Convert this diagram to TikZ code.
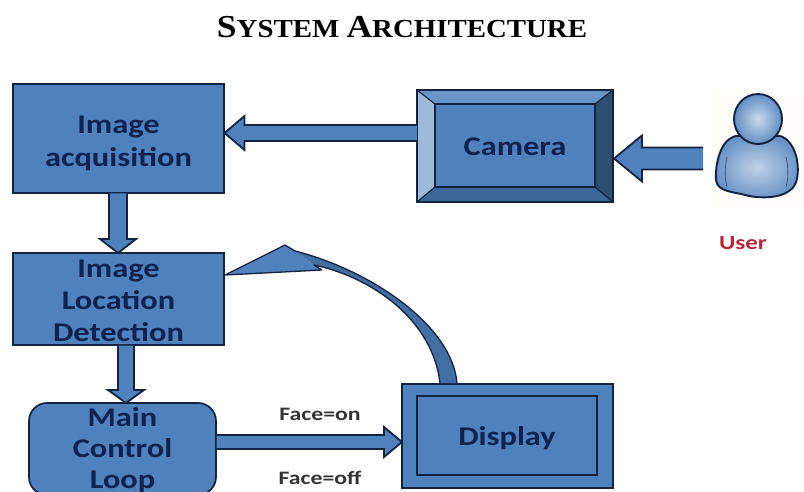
\documentclass[tikz,border=0pt]{standalone}
\usepackage{fontspec}
\setmainfont{Carlito}
\newfontfamily\titlefont[FakeStretch=1.11]{Liberation Serif}
\newfontfamily\widefont[FakeStretch=1.2]{Carlito}
\newfontfamily\widerfont[FakeStretch=1.25]{Carlito}
\usetikzlibrary{calc}
\definecolor{blockblue}{HTML}{4F81BD}
\definecolor{edgenavy}{HTML}{14233F}
\definecolor{labelnavy}{HTML}{0F2250}
\definecolor{userred}{HTML}{B5283A}
\tikzset{
  block/.style={draw=edgenavy,line width=1.7pt,fill=blockblue,inner sep=0pt,align=center,
    text=labelnavy,font=\widefont\fontsize{27}{32}\selectfont\bfseries},
  arrowbody/.style={draw=edgenavy,line width=1.8pt,fill=blockblue,line join=miter},
  smalllabel/.style={font=\widerfont\fontsize{19}{22}\selectfont\bfseries,text=black!80,inner sep=0pt},
  bevel/.style={draw=edgenavy,line width=1.2pt,line join=round},
}
\newcommand{\dropline}[1]{\rule{0pt}{#1pt}}
% from, to, half shaft width, half head width, head length
\newcommand{\blockarrow}[5]{%
  \coordinate (hb) at ($(#2)!#5pt!(#1)$);
  \draw[arrowbody]
    ($(#1)!#3pt!90:(#2)$) --
    ($(hb)!#3pt!90:(#2)$) --
    ($(hb)!#4pt!90:(#2)$) --
    (#2) --
    ($(hb)!#4pt!-90:(#2)$) --
    ($(hb)!#3pt!-90:(#2)$) --
    ($(#1)!#3pt!-90:(#2)$);}
\begin{document}
\begin{tikzpicture}[x=1pt,y=-1pt]
\useasboundingbox (0,0) rectangle (804,492);
\fill[white] (0,0) rectangle (804,492);

\node[text=black,inner sep=0pt] (title) at (402,27)
  {\titlefont\bfseries\fontsize{32}{32}\selectfont S\fontsize{26}{32}\selectfont YSTEM \fontsize{32}{32}\selectfont A\fontsize{26}{32}\selectfont RCHITECTURE};

% ---- boxes
\node[block,minimum width=211pt,minimum height=109pt] (acq) at (118.5,138.5) {\dropline{26.5}Image\\[1pt]acquisition};
\node[block,minimum width=211pt,minimum height=92pt] (loc) at (118.5,299) {\dropline{21.5}Image\\Location\\Detection};
\begin{scope}
\clip (0,0) rectangle (804,492);
\node[block,rounded corners=18pt,minimum width=187pt,minimum height=92pt] (main) at (122.5,449) {\dropline{22}Main\\[-1pt]Control\\[-1pt]Loop};
\end{scope}

% camera: bevelled box
\coordinate (co1) at (417,90);
\coordinate (co2) at (613,90);
\coordinate (co3) at (613,202);
\coordinate (co4) at (417,202);
\coordinate (ci1) at (435,104);
\coordinate (ci2) at (595,104);
\coordinate (ci3) at (595,187);
\coordinate (ci4) at (435,187);
\fill[fill=blockblue!85!white] (co1)--(co2)--(ci2)--(ci1)--cycle;
\fill[fill=blockblue!55!white] (co1)--(ci1)--(ci4)--(co4)--cycle;
\fill[fill=blockblue!60!black] (co2)--(co3)--(ci3)--(ci2)--cycle;
\fill[fill=blockblue!80!black] (co4)--(ci4)--(ci3)--(co3)--cycle;
\draw[bevel] (co1)--(ci1) (co2)--(ci2) (co3)--(ci3) (co4)--(ci4);
\node[block,minimum width=160pt,minimum height=83pt] (cam) at (515,145.5) {\dropline{19.5}Camera};
\draw[edgenavy,line width=1.7pt] (co1) rectangle (co3);

% display: double box
\node[draw=edgenavy,line width=1.7pt,fill=blockblue,minimum width=211pt,minimum height=104pt,inner sep=0pt] (dispouter) at (507.5,436) {};
\node[block,minimum width=180pt,minimum height=79pt] (disp) at (507,435.5) {\dropline{25}Display};

% ---- user icon
\fill[white!99!red] (710,90) rectangle (804,207);
\draw[edgenavy,line width=1.9pt,inner color=blockblue!35!white,outer color=blockblue!85!white]
  (733,137) .. controls (720,142) and (715,165) .. (716,180)
  .. controls (717,192) and (735,192) .. (745,195)
  .. controls (760,199) and (780,198) .. (789,191)
  .. controls (798,186) and (799,172) .. (797,160)
  .. controls (795,148) and (788,138) .. (780,136)
  -- (736,136) -- cycle;
\draw[blockblue!70!black,line width=0.8pt] (727,157) .. controls (724,170) and (725,180) .. (727,187)
  (786,157) .. controls (789,170) and (788,180) .. (786,187);
\draw[edgenavy,line width=1.9pt,inner color=blockblue!30!white,outer color=blockblue!90!white]
  (758,119) circle [x radius=24,y radius=25];
\node[text=userred,inner sep=0pt,font=\widerfont\fontsize{20}{22}\selectfont\bfseries] (userlab) at (743,243) {User};

% ---- straight connectors
\coordinate (camin) at (703,158.5);
\coordinate (camtip) at (614,158.5);
\coordinate (camout) at (417,133);
\coordinate (acqtip) at (224.5,133);
\coordinate (acqout) at (118,193.5);
\coordinate (loctip) at (118,253);
\coordinate (locout) at (126,345.5);
\coordinate (maintip) at (126,403);
\coordinate (mainout) at (216.5,442);
\coordinate (disptip) at (402,442);
\blockarrow{camout}{acqtip}{8}{17}{20}
\blockarrow{camin}{camtip}{11}{23}{28}
\blockarrow{acqout}{loctip}{9}{18}{14}
\blockarrow{locout}{maintip}{8}{18}{13}
\blockarrow{mainout}{disptip}{7}{15}{18}

% ---- curved connector: display back to the location box
\coordinate (curvetip) at (225,275);
\fill[blockblue!85!black]
  (295,251) .. controls (370,270) and (452,325) .. (457,383)
  -- (440,383) .. controls (433,322) and (375,278) .. (314,265) -- cycle;
\fill[blockblue] (curvetip) -- (285,245) -- (295,251) -- (314,265) -- (322,270) -- cycle;
\draw[edgenavy,line width=1.3pt,line join=round]
  (322,270) -- (curvetip) -- (285,245) -- (295,251)
  .. controls (370,270) and (452,325) .. (457,383)
  (440,383) .. controls (433,322) and (375,278) .. (314,265) -- (322,270);

% ---- labels
\node[smalllabel] (faceon) at (320,414) {Face=on};
\node[smalllabel] (faceoff) at (320,478) {Face=off};
\end{tikzpicture}
\end{document}
